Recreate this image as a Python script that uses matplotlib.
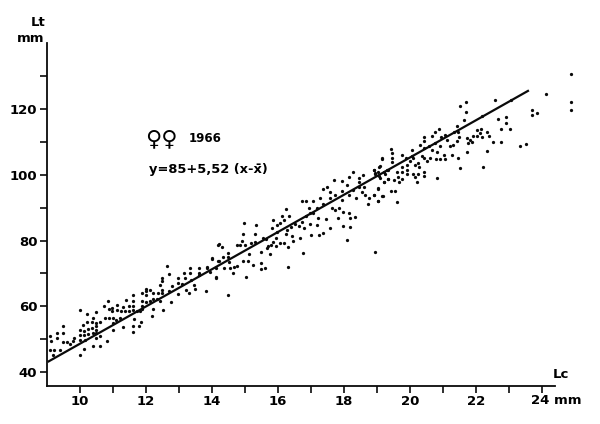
import matplotlib
matplotlib.use("Agg")
import matplotlib.pyplot as plt

# points, left to right
lc_left = [9.09, 9.11, 9.29, 9.29, 9.49, 9.49, 9.49, 9.62, 9.09, 9.21, 9.38, 9.17, 9.70, 9.78, 9.83,
           10.0, 10.0, 10.0, 10.0, 10.0, 10.1, 10.12, 10.12, 10.15, 10.13, 10.22, 10.2, 10.25, 10.25,
           10.35, 10.38, 10.35, 10.4, 10.4, 10.5, 10.5, 10.5, 10.5, 10.5, 10.5, 10.6, 10.6, 10.6,
           10.83, 10.73, 10.76, 10.84, 10.88, 10.88, 10.98, 10.98, 10.99, 10.99, 10.99, 11.09, 11.13,
           11.13, 11.21, 11.23, 11.29, 11.31, 11.36, 11.39, 11.49, 11.49, 11.6, 11.62, 11.62, 11.62,
           11.64, 11.6, 11.6, 11.72, 11.82, 11.8, 11.85, 11.88, 11.87, 11.87, 11.89, 12.0, 12.0, 12.0,
           12.0, 12.12, 12.12, 12.17, 12.22, 12.2, 12.22, 12.32, 12.37, 12.42, 12.42, 12.48, 12.48,
           12.5, 12.5, 12.53, 12.65, 12.7, 12.7, 12.76, 12.8, 12.96, 12.98, 12.98, 13.1, 13.15, 13.18,
           13.2, 13.31, 13.33, 13.35, 13.38, 13.46, 13.49, 13.6, 13.6, 13.6, 13.82, 13.86, 13.94,
           13.99, 14.11, 14.12, 14.18, 14.19]
lt_left = [51.0, 49.4, 51.7, 50.4, 54.0, 51.7, 49.2, 49.2, 46.6, 46.8, 46.6, 45.1, 48.4, 49.4, 50.2,
           58.8, 52.9, 51.2, 49.6, 45.1, 54.2, 52.4, 51.2, 49.8, 46.9, 57.6, 55.2, 53.2, 51.5,
           55.2, 56.5, 53.5, 51.7, 47.8, 58.3, 54.9, 53.9, 52.9, 51.9, 50.2, 55.2, 50.9, 48.0,
           49.4, 60.0, 56.5, 61.6, 59.3, 56.5, 59.6, 58.6, 56.5, 54.9, 52.7, 55.9, 60.3,
           59.0, 56.5, 58.6, 59.8, 53.7, 58.6, 62.0, 60.0, 58.6, 63.4, 61.5, 60.0, 58.8,
           56.2, 54.0, 52.0, 58.6, 58.6, 53.9, 55.2, 64.1, 61.6, 60.0, 59.2, 65.4, 64.7, 63.4,
           61.3, 65.1, 61.5, 57.0, 63.9, 62.3, 59.3, 62.1, 63.9, 61.5, 66.6, 67.6, 68.7,
           64.9, 64.1, 58.8, 72.2, 69.7, 64.7, 61.3, 66.2, 67.2, 68.7, 63.7, 66.9, 70.0, 68.7,
           65.1, 63.9, 71.7, 70.0, 68.1, 66.6, 65.2, 71.8, 70.2, 69.4, 64.7, 71.8, 70.5,
           74.5, 68.7, 71.5, 78.8, 73.8]

lc_mid = [13.84, 14.5, 14.0, 14.11, 14.2, 14.2, 14.32, 14.35, 14.37, 14.5, 14.5, 14.52, 14.55, 14.65,
          14.68, 14.77, 14.75, 14.85, 14.9, 14.93, 15.0, 14.98, 14.95, 15.08, 15.02, 15.12, 15.18,
          15.23, 15.31, 15.31, 15.34, 15.49, 15.49, 15.49, 15.61, 15.56, 15.63, 15.66, 15.71, 15.76,
          15.78, 15.81, 15.84, 15.84, 15.94, 15.94, 15.96, 15.98, 16.06, 16.06, 16.11, 16.17, 16.17,
          16.25, 16.25, 16.29, 16.32, 16.32, 16.35, 16.39, 16.42, 16.47, 16.52, 16.65, 16.67, 16.72,
          16.74, 16.77, 16.79, 16.85, 16.85, 16.95, 16.97, 16.97, 16.99, 17.07, 17.07, 17.18, 17.2,
          17.23, 17.26, 17.28, 17.36, 17.38, 17.38, 17.46, 17.48, 17.58, 17.58, 17.58, 17.63, 17.71,
          17.73, 17.73, 17.83, 17.85, 17.93, 17.95, 17.95, 17.96, 17.98, 18.08, 18.09, 18.15, 18.15,
          18.15, 18.19, 18.19, 18.27, 18.29, 18.34, 18.36, 18.46, 18.46, 18.47, 18.54, 18.59, 18.64,
          18.61, 18.74, 18.77, 18.91, 18.94, 18.92, 18.94, 19.04, 19.04, 19.07, 19.17, 19.18, 19.22,
          19.23, 19.35, 19.35]
lt_mid = [72.1, 63.4, 74.6, 68.8, 73.8, 78.9, 78.0, 75.1, 71.6, 76.3, 75.1, 73.6, 71.6, 70.0,
          71.9, 72.3, 78.7, 78.7, 79.9, 73.9, 78.7, 85.5, 82.0, 73.9, 69.0, 75.8, 79.4,
          72.6, 79.7, 82.0, 84.8, 76.4, 73.1, 71.4, 71.6, 80.7, 80.4, 77.7, 78.4, 75.9,
          78.7, 83.7, 86.3, 79.7, 78.4, 80.7, 84.8, 82.7, 79.2, 85.3, 87.5, 86.3, 79.2,
          89.6, 82.0, 83.2, 78.2, 72.1, 87.6, 84.1, 81.4, 80.0, 85.1, 84.3, 80.7, 85.8,
          92.1, 76.3, 83.7, 92.2, 87.5, 89.8, 88.3, 85.0, 81.7, 92.2, 88.3, 90.0, 84.8,
          86.8, 81.7, 92.9, 91.2, 95.6, 82.2, 86.5, 96.4, 94.9, 92.9, 83.7, 89.8, 98.5,
          93.9, 89.3, 86.8, 89.8, 98.2, 95.2, 92.4, 84.3, 88.8, 96.9, 80.2, 99.5, 93.9,
          88.3, 86.8, 84.0, 101.0, 95.4, 87.1, 92.9, 99.0, 98.0, 96.4, 94.9, 100.0, 93.9,
          96.4, 91.2, 92.9, 93.9, 76.4, 101.5, 100.7, 95.9, 92.1, 102.5, 104.9, 93.6, 101.0,
          97.7, 98.7, 101.5]

lc_right = [18.92, 19.04, 19.09, 18.94, 19.07, 19.17, 19.11, 19.21, 19.24, 19.3, 19.35, 19.04, 18.91,
            19.15, 19.04, 19.43, 19.56, 19.6, 19.43, 19.45, 19.45, 19.47, 19.52, 19.62, 19.65, 19.67,
            19.75, 19.75, 19.77, 19.77, 19.88, 19.9, 19.92, 19.92, 20.0, 20.05, 20.05, 20.1, 20.1,
            20.15, 20.15, 20.23, 20.25, 20.27, 20.25, 20.3, 20.36, 20.43, 20.44, 20.43, 20.44, 20.43,
            20.43, 20.51, 20.58, 20.61, 20.66, 20.66, 20.76, 20.76, 20.78, 20.81, 20.81, 20.89, 20.91,
            20.91, 20.93, 21.04, 21.08, 21.08, 21.14, 21.21, 21.28, 21.32, 21.34, 21.42, 21.44, 21.47,
            21.47, 21.5, 21.52, 21.52, 21.64, 21.69, 21.69, 21.72, 21.74, 21.77, 21.82, 21.89, 21.92,
            22.04, 22.04, 22.12, 22.17, 22.19, 22.18, 22.22, 22.33, 22.35, 22.4, 22.53, 22.58, 22.68,
            22.75, 22.75, 22.91, 22.91, 23.05, 23.08, 23.34, 23.51, 23.71, 23.71, 23.86, 24.12, 24.88,
            24.87, 24.87]
lt_right = [101.6, 101.0, 102.6, 100.3, 99.7, 105.1, 99.0, 97.7, 100.3, 101.4, 98.7, 95.8, 93.9,
            93.6, 92.1, 95.0, 95.0, 91.8, 108.0, 106.6, 105.1, 103.8, 98.5, 101.0, 99.5, 97.8,
            106.1, 102.4, 101.0, 98.8, 105.1, 101.5, 103.1, 100.2, 104.1, 107.6, 105.8, 105.1, 100.2,
            103.1, 99.3, 97.7, 103.6, 102.4, 100.2, 109.0, 105.8, 111.5, 110.2, 108.1, 105.1, 101.0,
            99.7, 104.1, 108.7, 105.1, 107.6, 111.9, 113.2, 109.7, 104.8, 107.1, 99.0, 113.9, 108.7,
            104.8, 111.5, 106.1, 112.2, 104.8, 110.5, 108.7, 106.1, 109.2, 113.2, 114.8, 110.2, 105.1,
            113.2, 111.5, 121.1, 102.1, 116.8, 122.2, 119.3, 111.2, 106.9, 109.7, 110.7, 109.9, 111.9,
            113.7, 112.0, 112.7, 113.9, 111.7, 118.0, 102.4, 113.2, 107.3, 112.0, 109.9, 122.9, 117.0,
            114.0, 109.9, 117.6, 115.8, 113.9, 122.9, 108.7, 109.5, 119.8, 118.2, 118.8, 124.7, 130.8,
            122.1, 119.8]

# regression line ends
line_lc = [9.05, 23.58]
line_lt = [43.2, 125.6]

x_major = [10, 12, 14, 16, 18, 20, 22]
x_minor = [11, 13, 15, 17, 19, 21, 23, 24]
y_major = [40, 60, 80, 100, 120]
y_minor = [50, 70, 90, 110, 130]

fig = plt.figure(figsize=(6, 4.24), dpi=100)
ax = fig.add_axes([47 / 600, 1 - 386 / 424, (555 - 47) / 600, (386 - 43) / 424])
ax.set_xlim(9.0, 24.4)
ax.set_ylim(35.7, 140.2)

ax.scatter(lc_left + lc_mid + lc_right, lt_left + lt_mid + lt_right, s=5.5, c="#0a0a0a",
           linewidths=0, clip_on=False, zorder=3)
ax.plot(line_lc, line_lt, color="#0a0a0a", lw=1.6, zorder=4)

for side in ("top", "right"):
    ax.spines[side].set_visible(False)
for side in ("left", "bottom"):
    ax.spines[side].set_linewidth(1.3)
    ax.spines[side].set_color("#0a0a0a")

ax.set_xticks(x_major + [24])
ax.set_xticks(x_minor, minor=True)
ax.set_xticklabels([str(v) for v in x_major] + [""])
ax.set_yticks(y_major)
ax.set_yticks(y_minor, minor=True)
ax.tick_params(which="both", direction="out", length=5, width=1.2, color="#0a0a0a")
ax.tick_params(axis="x", which="major", pad=1.5, labelsize=9.5)
ax.tick_params(axis="y", which="major", pad=2, labelsize=9.5)
for lab in ax.get_xticklabels() + ax.get_yticklabels():
    lab.set_fontweight("bold")

fig.text(38 / 600, 1 - 22 / 424, "Lt", fontsize=9.5, fontweight="bold", ha="center", va="center")
fig.text(31 / 600, 1 - 39 / 424, "mm", fontsize=9.5, fontweight="bold", ha="center", va="center")
fig.text(561 / 600, 1 - 374 / 424, "Lc", fontsize=9.5, fontweight="bold", ha="center", va="center")
fig.text(556 / 600, 1 - 400 / 424, "24 mm", fontsize=9.5, fontweight="bold", ha="center", va="center")

fig.text(161 / 600, 1 - 139 / 424, "♀♀", fontsize=16, fontweight="bold", ha="center", va="center")
fig.text(205 / 600, 1 - 138 / 424, "1966", fontsize=8.5, fontweight="bold", ha="center", va="center")
fig.text(149 / 600, 1 - 170 / 424, "y=85+5,52 (x-x\u0304)", fontsize=9.4, fontweight="bold", ha="left", va="center")

fig.savefig("out.png", dpi=100)
plt.close(fig)
